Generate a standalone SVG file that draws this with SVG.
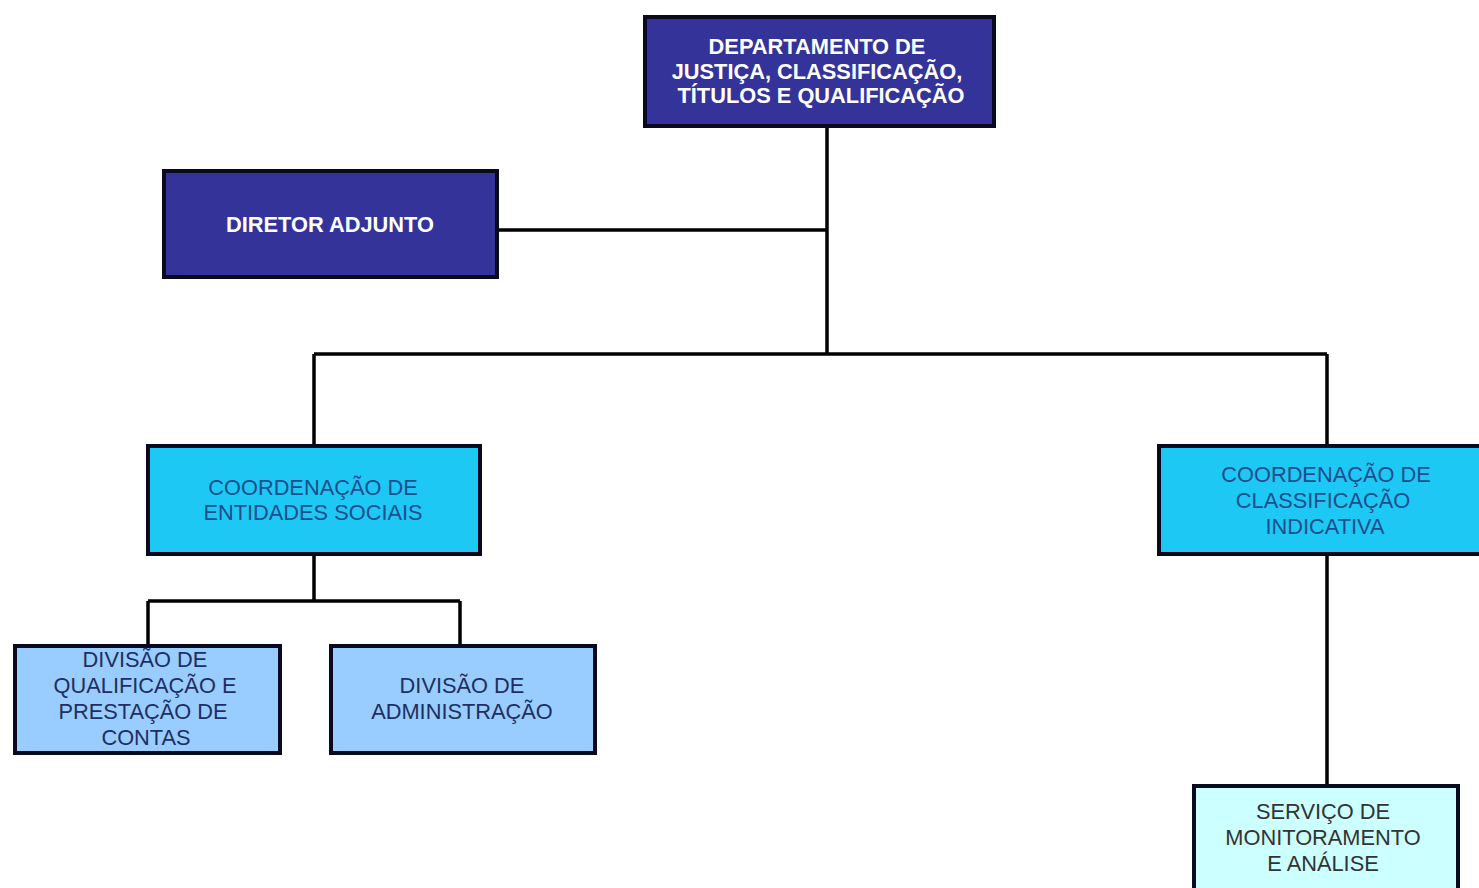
<svg xmlns="http://www.w3.org/2000/svg" width="1479" height="888" viewBox="0 0 1479 888">
<style>
.dark{fill:#333399;stroke:#0a0a1e;stroke-width:4}
.cyan{fill:#1EC8F5;stroke:#0a0a1e;stroke-width:4}
.div{fill:#99CCFF;stroke:#0a0a1e;stroke-width:4}
.svc{fill:#CCFFFF;stroke:#0a0a1e;stroke-width:4}
text{font-family:"Liberation Sans",Arial,sans-serif;text-anchor:middle}
.tw{fill:#ffffff;font-weight:bold;font-size:21.8px}
.tc{fill:#1F4E8C;font-size:21.8px}
.td{fill:#1F2F5F;font-size:21.8px}
.ts{fill:#333333;font-size:21.8px}
.conn{fill:none;stroke:#000;stroke-width:3.5}
</style>
<rect width="1479" height="888" fill="#ffffff"/>
<g id="connectors">
<path class="conn" d="M827 127 V354"/>
<path class="conn" d="M497 230 H827"/>
<path class="conn" d="M314 354 H1327"/>
<path class="conn" d="M314 354 V446"/>
<path class="conn" d="M1327 354 V446"/>
<path class="conn" d="M314 555 V601"/>
<path class="conn" d="M148 601 H460"/>
<path class="conn" d="M148 601 V645"/>
<path class="conn" d="M460 601 V645"/>
<path class="conn" d="M1327 555 V785"/>
</g>
<g id="departamento">
<rect class="dark" x="645" y="17" width="349" height="109"/>
<text class="tw" x="817" y="54">DEPARTAMENTO DE</text>
<text class="tw" x="817" y="79" font-size="22.6px">JUSTIÇA, CLASSIFICAÇÃO,</text>
<text class="tw" x="821" y="103">TÍTULOS E QUALIFICAÇÃO</text>
</g>
<g id="diretor">
<rect class="dark" x="164" y="171" width="333" height="106"/>
<text class="tw" x="330" y="232">DIRETOR ADJUNTO</text>
</g>
<g id="coord-entidades">
<rect class="cyan" x="148" y="446" width="332" height="108"/>
<text class="tc" x="313" y="495">COORDENAÇÃO DE</text>
<text class="tc" x="313" y="520">ENTIDADES SOCIAIS</text>
</g>
<g id="coord-classificacao">
<rect class="cyan" x="1159" y="446" width="324" height="108"/>
<text class="tc" x="1326" y="482">COORDENAÇÃO DE</text>
<text class="tc" x="1323" y="508">CLASSIFICAÇÃO</text>
<text class="tc" x="1325" y="534">INDICATIVA</text>
</g>
<g id="div-qualificacao">
<rect class="div" x="15" y="646" width="265" height="107"/>
<text class="td" x="145" y="667">DIVISÃO DE</text>
<text class="td" x="145" y="693">QUALIFICAÇÃO E</text>
<text class="td" x="143" y="719">PRESTAÇÃO DE</text>
<text class="td" x="146" y="745">CONTAS</text>
</g>
<g id="div-administracao">
<rect class="div" x="331" y="646" width="264" height="107"/>
<text class="td" x="462" y="693">DIVISÃO DE</text>
<text class="td" x="462" y="719">ADMINISTRAÇÃO</text>
</g>
<g id="servico">
<rect class="svc" x="1194" y="786" width="264" height="110"/>
<text class="ts" x="1323" y="819">SERVIÇO DE</text>
<text class="ts" x="1323" y="845">MONITORAMENTO</text>
<text class="ts" x="1323" y="871">E ANÁLISE</text>
</g>
</svg>
